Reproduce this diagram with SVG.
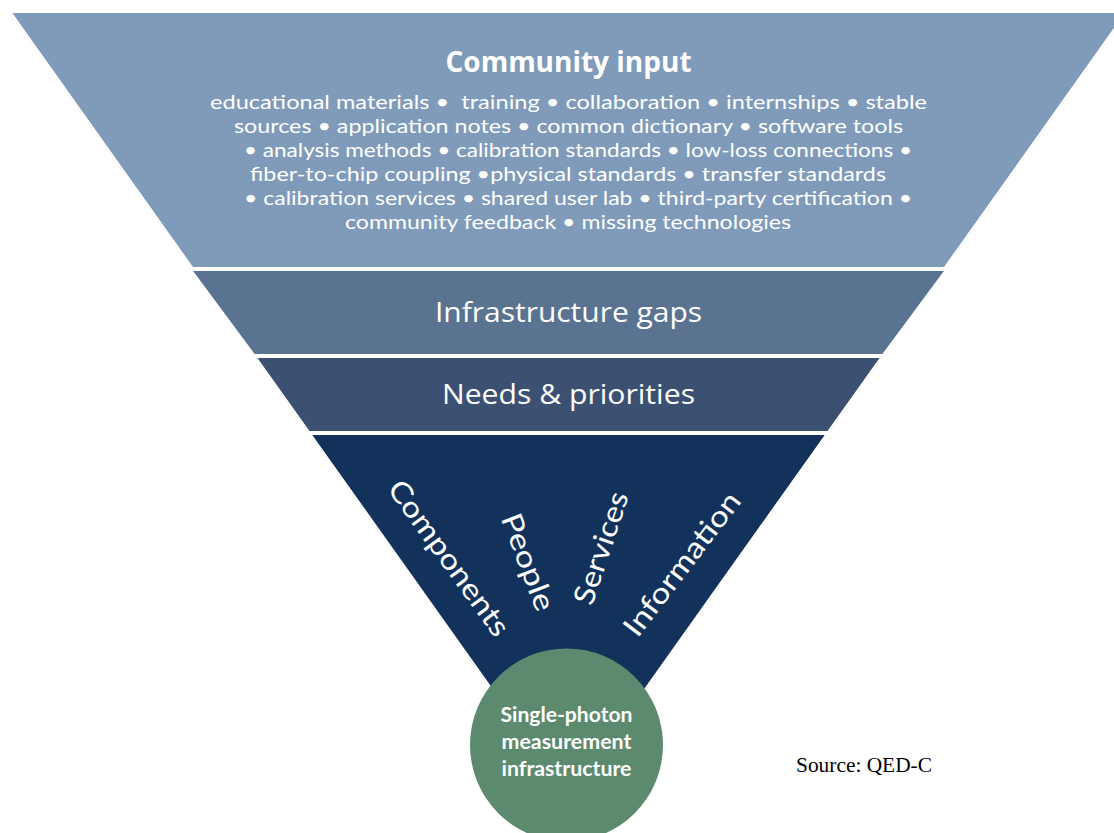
<svg xmlns="http://www.w3.org/2000/svg" width="1114" height="833" viewBox="0 0 1114 833">
  <style>
    .band { stroke: #ffffff; stroke-width: 2; }
    .lbl { font-family: "Open Sans", "Noto Sans", "Liberation Sans", sans-serif; fill: #ffffff; text-anchor: middle; }
    .items { font-family: "Lato", "Open Sans", "Liberation Sans", sans-serif; fill: #ffffff; text-anchor: middle; font-size: 20px; }
    .ray { font-family: "Lato", "Open Sans", "Liberation Sans", sans-serif; fill: #ffffff; text-anchor: middle; font-size: 29px; }
    .core { font-family: "Lato", "Open Sans", "Liberation Sans", sans-serif; fill: #ffffff; text-anchor: middle; font-size: 20px; font-weight: bold; }
  </style>
  <rect width="1114" height="833" fill="#ffffff"/>

  <!-- funnel outline -->
  <polygon points="10.5,12 1126.5,12 568.5,797" fill="none" stroke="#d6d6d6" stroke-width="2"/>

  <g id="community-input">
    <polygon class="band" points="10.5,12 1126.5,12 944.5,268 192.5,268" fill="#7f9bb9"/>
    <text class="lbl" x="568.5" y="72" font-size="28" font-weight="bold">Community input</text>
    <text class="items" x="568.5" y="109" textLength="717" lengthAdjust="spacingAndGlyphs" xml:space="preserve">educational materials •  training • collaboration • internships • stable</text>
    <text class="items" x="568.5" y="133" textLength="669" lengthAdjust="spacingAndGlyphs">sources • application notes • common dictionary • software tools</text>
    <text class="items" x="578" y="157" textLength="668" lengthAdjust="spacingAndGlyphs">• analysis methods • calibration standards • low-loss connections •</text>
    <text class="items" x="568" y="181" textLength="636" lengthAdjust="spacingAndGlyphs">fiber-to-chip coupling •physical standards • transfer standards</text>
    <text class="items" x="578" y="205" textLength="668" lengthAdjust="spacingAndGlyphs">• calibration services • shared user lab • third-party certification •</text>
    <text class="items" x="568" y="229" textLength="446" lengthAdjust="spacingAndGlyphs">community feedback • missing technologies</text>
  </g>

  <g id="infrastructure-gaps">
    <polygon class="band" points="191.2,270 945.8,270 882.8,355 254.2,355" fill="#5a7390"/>
    <text class="lbl" x="568.5" y="322" font-size="28" textLength="267" lengthAdjust="spacingAndGlyphs">Infrastructure gaps</text>
  </g>

  <g id="needs-priorities">
    <polygon class="band" points="255.6,357 881.4,357 828.0,432 309.0,432" fill="#3c5171"/>
    <text class="lbl" x="568.5" y="404" font-size="28" textLength="253" lengthAdjust="spacingAndGlyphs">Needs &amp; priorities</text>
  </g>

  <g id="resources">
    <polygon class="band" points="310.4,434 826.6,434 568.5,797" fill="#12325b"/>
    <text class="ray" transform="translate(449,558) rotate(54)" dy="10" textLength="185" lengthAdjust="spacingAndGlyphs">Components</text>
    <text class="ray" transform="translate(528,562) rotate(69)" dy="10" textLength="102" lengthAdjust="spacingAndGlyphs">People</text>
    <text class="ray" transform="translate(601,548) rotate(-71.6)" dy="10" textLength="117" lengthAdjust="spacingAndGlyphs">Services</text>
    <text class="ray" transform="translate(682,564) rotate(-52.7)" dy="10" textLength="173" lengthAdjust="spacingAndGlyphs">Information</text>
  </g>

  <g id="measurement-infrastructure">
    <circle cx="566.5" cy="745" r="96.5" fill="#5b8a6f"/>
    <text class="core" x="566.5" y="722" textLength="132" lengthAdjust="spacingAndGlyphs">Single-photon</text>
    <text class="core" x="566.5" y="749" textLength="130" lengthAdjust="spacingAndGlyphs">measurement</text>
    <text class="core" x="566.5" y="776" textLength="130" lengthAdjust="spacingAndGlyphs">infrastructure</text>
  </g>

  <g id="source-note">
    <text x="796" y="772" font-family="'Liberation Serif', 'Times New Roman', serif" font-size="21" fill="#000000" textLength="136" lengthAdjust="spacingAndGlyphs">Source: QED-C</text>
  </g>
</svg>
